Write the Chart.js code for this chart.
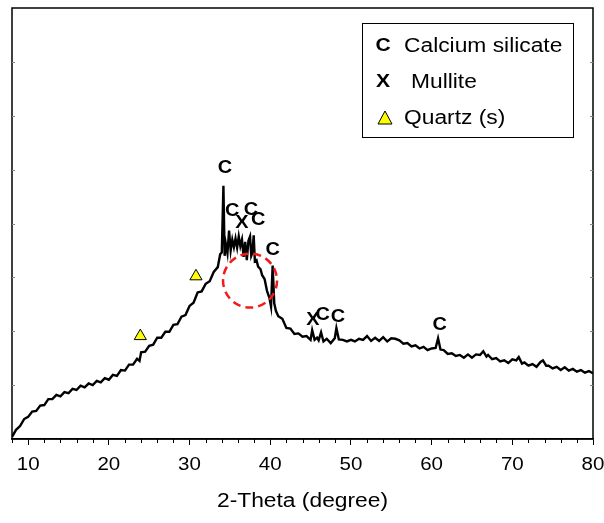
<!DOCTYPE html>
<html>
<head>
<meta charset="utf-8">
<script src="https://cdn.jsdelivr.net/npm/chart.js@4.4.1/dist/chart.umd.min.js"></script>
<style>
  html, body { margin: 0; padding: 0; background: #fff; }
  #wrap { width: 604px; height: 523px; }
</style>
</head>
<body>
<div id="wrap"><canvas id="xrd"></canvas></div>
<script>
"use strict";

// Pattern (2-theta in degrees, intensity in a.u.)
let twoTheta = [
    8.0, 8.5, 9.0, 9.5, 10.0, 10.5, 11.0, 11.5, 12.0, 12.5, 13.0, 13.5, 14.0, 14.5,
    15.0, 15.5, 16.0, 16.5, 17.0, 17.5, 18.0, 18.5, 19.0, 19.5, 20.0, 20.5, 21.0, 21.5,
    22.0, 22.5, 23.0, 23.5, 23.8, 24.0, 24.5, 25.0, 25.5, 26.0, 26.5, 27.0, 27.5, 28.0,
    28.5, 29.0, 29.5, 30.0, 30.5, 31.0, 31.5, 32.0, 32.5, 33.0, 33.5, 33.8, 34.0, 34.2,
    34.35, 34.5, 34.7, 34.9, 35.1, 35.3, 35.5, 35.7, 35.9, 36.1, 36.3, 36.5, 36.7, 36.9,
    37.1, 37.3, 37.5, 37.65, 37.8, 37.95, 38.1, 38.3, 38.5, 38.8, 39.0, 39.3, 39.6, 39.9,
    40.1, 40.3, 40.5, 40.7, 41.0, 41.5, 42.0, 42.5, 43.0, 43.5, 44.0, 44.5, 45.0, 45.2,
    45.5, 45.8, 46.0, 46.3, 46.6, 47.0, 47.5, 48.0, 48.2, 48.5, 49.0, 49.5, 50.0, 50.5,
    51.0, 51.5, 52.0, 52.5, 53.0, 53.5, 54.0, 54.5, 55.0, 55.5, 56.0, 56.5, 57.0, 57.5,
    58.0, 58.5, 59.0, 59.5, 60.0, 60.5, 60.8, 61.1, 61.5, 62.0, 62.5, 63.0, 63.5, 64.0,
    64.5, 65.0, 65.5, 66.0, 66.4, 66.8, 67.0, 67.5, 68.0, 68.5, 69.0, 69.5, 70.0, 70.5,
    70.8, 71.2, 71.5, 72.0, 72.5, 73.0, 73.5, 73.8, 74.2, 74.5, 75.0, 75.5, 76.0, 76.5,
    77.0, 77.5, 78.0, 78.5, 79.0, 79.5, 80.0
];
let intensity = [
    0.04, 0.17, 0.24, 0.37, 0.41, 0.51, 0.52, 0.62, 0.63, 0.74, 0.74, 0.82, 0.79, 0.87,
    0.85, 0.93, 0.91, 0.99, 0.96, 1.03, 1.00, 1.08, 1.05, 1.13, 1.10, 1.19, 1.17, 1.28,
    1.27, 1.38, 1.38, 1.49, 1.45, 1.61, 1.62, 1.73, 1.75, 1.88, 1.88, 1.99, 1.99, 2.12,
    2.13, 2.27, 2.30, 2.47, 2.53, 2.72, 2.74, 2.88, 2.93, 3.10, 3.19, 3.43, 3.46, 4.70,
    3.40, 3.62, 3.45, 3.87, 3.50, 3.70, 3.56, 3.72, 3.55, 3.76, 3.58, 3.70, 3.38, 3.66,
    3.32, 3.68, 3.76, 3.40, 3.46, 3.78, 3.30, 3.32, 3.20, 3.15, 3.04, 2.97, 2.75, 2.62,
    2.46, 3.22, 2.52, 2.38, 2.28, 2.23, 2.06, 2.05, 1.95, 1.96, 1.90, 1.91, 1.84, 2.02,
    1.84, 1.88, 1.83, 1.98, 1.81, 1.86, 1.78, 1.87, 2.06, 1.85, 1.84, 1.81, 1.84, 1.81,
    1.86, 1.84, 1.91, 1.82, 1.88, 1.82, 1.89, 1.81, 1.87, 1.86, 1.83, 1.77, 1.78, 1.72,
    1.74, 1.68, 1.71, 1.65, 1.68, 1.69, 1.87, 1.66, 1.65, 1.58, 1.59, 1.54, 1.56, 1.51,
    1.57, 1.51, 1.57, 1.56, 1.63, 1.53, 1.56, 1.48, 1.50, 1.44, 1.46, 1.41, 1.48, 1.46,
    1.52, 1.40, 1.42, 1.36, 1.39, 1.34, 1.43, 1.46, 1.36, 1.36, 1.31, 1.34, 1.28, 1.33,
    1.27, 1.30, 1.25, 1.28, 1.23, 1.26, 1.22
];

// Phase markers: [2-theta, height of the letter]
let calciumPeaks = [[34.4, 5.02], [35.3, 4.22], [37.6, 4.24], [38.5, 4.06], [40.3, 3.5], [46.5, 2.3], [48.4, 2.26], [61.0, 2.11]];
let mulliteMarks = [[36.5, 4.0], [45.3, 2.2]];
let quartzMarks = [[23.9, 1.91], [30.8, 3.02]];
let circleAt = [37.5, 2.94];

let xTicks = [10, 20, 30, 40, 50, 60, 70, 80];
let xMinorTicks = [8, 12, 14, 16, 18, 22, 24, 26, 28, 32, 34, 36, 38, 42, 44, 46, 48,
                   52, 54, 56, 58, 62, 64, 66, 68, 72, 74, 76, 78];
let yTicks = [1, 2, 3, 4, 5, 6, 7];
let xTitle = "2-Theta (degree)";

let legendItems = [
    { sym: "C", text: "Calcium silicate" },
    { sym: "X", text: "Mullite" },
    { sym: "tri", text: "Quartz (s)" }
];

const FONT = "'Liberation Sans', Arial, Helvetica, sans-serif";
const WIDEN = 1.14;   // the original lettering is a little stretched sideways

function wideText(ctx, text, px, py, align) {
    ctx.save();
    ctx.translate(px, py);
    ctx.scale(WIDEN, 1);
    ctx.textAlign = align;
    ctx.fillText(text, 0, 0);
    ctx.restore();
}

// Frame, tick labels, letters, circle and legend box
const overlay = {
    id: "overlay",
    afterDatasetsDraw(chart) {
        const ctx = chart.ctx;
        const a = chart.chartArea;
        const x = chart.scales.x;
        const y = chart.scales.y;
        ctx.save();

        ctx.strokeStyle = "#000";
        ctx.lineWidth = 1.5;
        ctx.strokeRect(a.left, a.top, a.right - a.left, a.bottom - a.top);

        ctx.lineWidth = 1;
        ctx.beginPath();
        xMinorTicks.forEach(function(v) {
            let px = Math.round(x.getPixelForValue(v)) + 0.5;
            ctx.moveTo(px, a.bottom);
            ctx.lineTo(px, a.bottom + 4);
        });
        ctx.stroke();

        ctx.strokeStyle = "#888";
        ctx.beginPath();
        yTicks.forEach(function(v) {
            let py = Math.round(y.getPixelForValue(v)) + 0.5;
            ctx.moveTo(a.left, py);
            ctx.lineTo(a.left + 3, py);
            ctx.moveTo(a.right, py);
            ctx.lineTo(a.right - 3, py);
        });
        ctx.stroke();

        // x tick labels and axis title
        ctx.fillStyle = "#000";
        ctx.textBaseline = "middle";
        ctx.font = "18px " + FONT;
        xTicks.forEach(function(v) {
            wideText(ctx, String(v), x.getPixelForValue(v), a.bottom + 26, "center");
        });
        ctx.font = "20px " + FONT;
        wideText(ctx, xTitle, (a.left + a.right) / 2, a.bottom + 62, "center");

        // red dashed circle
        ctx.strokeStyle = "#f01c1c";
        ctx.lineWidth = 2.5;
        ctx.setLineDash([8, 5]);
        ctx.beginPath();
        ctx.arc(x.getPixelForValue(circleAt[0]), y.getPixelForValue(circleAt[1]), 27, 0, Math.PI * 2);
        ctx.stroke();
        ctx.setLineDash([]);

        // peak letters
        ctx.font = "bold 17.5px " + FONT;
        calciumPeaks.forEach(function(p) {
            wideText(ctx, "C", x.getPixelForValue(p[0]), y.getPixelForValue(p[1]), "center");
        });
        mulliteMarks.forEach(function(p) {
            wideText(ctx, "X", x.getPixelForValue(p[0]), y.getPixelForValue(p[1]), "center");
        });

        // legend
        ctx.strokeStyle = "#000";
        ctx.lineWidth = 1;
        ctx.strokeRect(362.5, 23.5, 211, 114);
        legendItems.forEach(function(item, i) {
            let cy = 46 + i * 36;
            if (item.sym === "tri") {
                ctx.beginPath();
                ctx.moveTo(385, cy - 7);
                ctx.lineTo(392, cy + 6);
                ctx.lineTo(378, cy + 6);
                ctx.closePath();
                ctx.fillStyle = "#ffff00";
                ctx.fill();
                ctx.stroke();
            } else {
                ctx.fillStyle = "#000";
                ctx.font = "bold 18.5px " + FONT;
                wideText(ctx, item.sym, 383, cy, "center");
            }
            ctx.fillStyle = "#000";
            ctx.font = "20px " + FONT;
            wideText(ctx, item.text, item.sym === "X" ? 411 : 404, cy, "left");
        });

        ctx.restore();
    }
};

let points = twoTheta.map(function(t, i) { return { x: t, y: intensity[i] }; });
let quartzPoints = quartzMarks.map(function(p) { return { x: p[0], y: p[1] }; });

let ctx_xrd = document.getElementById("xrd").getContext("2d");

let xrdChart = new Chart(ctx_xrd, {
    type: "line",
    data: {
        datasets: [
            {
                data: quartzPoints,
                showLine: false,
                pointStyle: "triangle",
                pointRadius: 7,
                pointBackgroundColor: "#ffff00",
                pointBorderColor: "#000",
                pointBorderWidth: 1,
                order: 0
            },
            {
                data: points,
                borderColor: "#000",
                borderWidth: 2.4,
                pointRadius: 0,
                tension: 0,
                order: 1
            }
        ]
    },
    options: {
        responsive: true,
        maintainAspectRatio: false,
        animation: false,
        layout: {
            padding: { left: 12, top: 8, right: 11, bottom: 78 }
        },
        plugins: {
            legend: { display: false },
            tooltip: { enabled: false }
        },
        scales: {
            x: {
                type: "linear",
                min: 8,
                max: 80,
                afterBuildTicks: function(scale) {
                    scale.ticks = xTicks.map(function(v) { return { value: v }; });
                },
                ticks: { display: false },
                grid: {
                    drawOnChartArea: false,
                    color: "#000",
                    tickLength: 6,
                    lineWidth: 1
                },
                border: { display: true, color: "#000", width: 1.5 }
            },
            y: {
                display: false,
                min: 0,
                max: 8
            }
        }
    },
    plugins: [overlay]
});
</script>
</body>
</html>
